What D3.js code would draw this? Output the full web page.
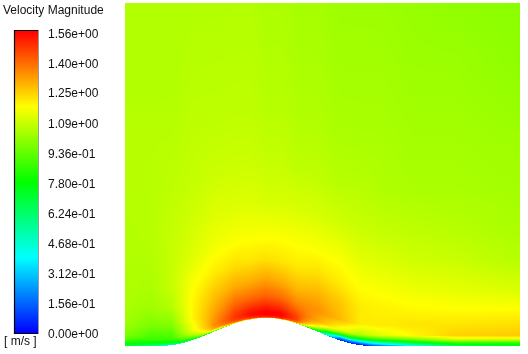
<!DOCTYPE html>
<html>
<head>
<meta charset="utf-8">
<script src="https://cdn.jsdelivr.net/npm/d3@7/dist/d3.min.js"></script>
<style>
  body { margin: 0; background: #fff; }
  #wrap { position: relative; width: 528px; height: 354px; overflow: hidden; }
  #field { position: absolute; }
  svg { position: absolute; left: 0; top: 0; }
  text { font-family: "Liberation Sans", Arial, sans-serif; font-size: 12px; fill: #111; }
</style>
</head>
<body>
<div id="wrap">
  <canvas id="field"></canvas>
  <svg width="528" height="354"></svg>
</div>
<script>
// legend
const legendValues = [0, 0.156, 0.312, 0.468, 0.624, 0.78, 0.936, 1.09, 1.25, 1.40, 1.56];
const legendLabels = ['0.00e+00', '1.56e-01', '3.12e-01', '4.68e-01', '6.24e-01', '7.80e-01',
    '9.36e-01', '1.09e+00', '1.25e+00', '1.40e+00', '1.56e+00'];
const colorStops = [0, 0.39, 0.78, 1.17, 1.56];
const colorNames = ['#0000ff', '#00ffff', '#00ff00', '#ffff00', '#ff0000'];

// bump profile (x, height), bump spans -1..1
const bumpX = [-1, -0.9, -0.8, -0.7, -0.6, -0.5, -0.4, -0.3, -0.2, -0.1, 0,
    0.1, 0.2, 0.3, 0.4, 0.5, 0.6, 0.7, 0.8, 0.9, 1];
const bumpH = [0, 0.0065, 0.0255, 0.055, 0.092, 0.134, 0.175, 0.212, 0.242, 0.261, 0.267,
    0.261, 0.242, 0.212, 0.175, 0.134, 0.092, 0.055, 0.0255, 0.0065, 0];

// sample stations along the wall and distances above the wall
const stationX = [-1.34, -1.1, -0.9, -0.7, -0.5, -0.3, -0.15, 0, 0.15, 0.3, 0.5, 0.7, 0.9, 1.1, 1.4, 1.8, 2.42];
const wallDist = [0, 0.01, 0.03, 0.06, 0.1, 0.2, 0.35, 0.55, 0.8, 1.1, 1.5, 2.0, 2.6, 3.3];

// velocity magnitude [m/s], one list per station, bottom (wall) to top
const speedCols = [
    [0.70, 0.74, 0.80, 0.90, 0.97, 1.02, 1.04, 1.05, 1.05, 1.05, 1.06, 1.06, 1.05, 1.05],
    [0.55, 0.68, 0.78, 0.86, 0.90, 0.97, 1.02, 1.04, 1.05, 1.06, 1.06, 1.06, 1.05, 1.05],
    [0.35, 0.60, 0.78, 0.86, 0.90, 0.98, 1.05, 1.08, 1.08, 1.08, 1.07, 1.06, 1.05, 1.05],
    [0.60, 0.80, 0.95, 1.08, 1.14, 1.18, 1.18, 1.16, 1.12, 1.10, 1.08, 1.07, 1.06, 1.05],
    [0.80, 1.10, 1.30, 1.33, 1.33, 1.30, 1.26, 1.20, 1.15, 1.12, 1.09, 1.07, 1.06, 1.05],
    [1.00, 1.35, 1.45, 1.48, 1.46, 1.39, 1.30, 1.22, 1.16, 1.12, 1.09, 1.07, 1.06, 1.05],
    [1.20, 1.45, 1.53, 1.54, 1.50, 1.40, 1.30, 1.21, 1.16, 1.12, 1.09, 1.07, 1.06, 1.05],
    [1.30, 1.50, 1.56, 1.56, 1.52, 1.42, 1.32, 1.22, 1.16, 1.11, 1.08, 1.06, 1.05, 1.04],
    [1.20, 1.48, 1.55, 1.55, 1.50, 1.40, 1.30, 1.21, 1.16, 1.11, 1.08, 1.06, 1.05, 1.04],
    [1.00, 1.35, 1.45, 1.46, 1.43, 1.35, 1.27, 1.20, 1.16, 1.11, 1.07, 1.05, 1.04, 1.03],
    [0.50, 0.75, 1.00, 1.20, 1.30, 1.34, 1.29, 1.22, 1.16, 1.11, 1.07, 1.05, 1.04, 1.03],
    [0.05, 0.12, 0.30, 0.85, 1.15, 1.28, 1.26, 1.20, 1.16, 1.10, 1.06, 1.04, 1.03, 1.02],
    [0.02, 0.10, 0.30, 0.75, 1.05, 1.20, 1.20, 1.17, 1.13, 1.09, 1.06, 1.04, 1.03, 1.02],
    [0.15, 0.30, 0.50, 0.85, 1.12, 1.20, 1.19, 1.16, 1.12, 1.08, 1.05, 1.04, 1.03, 1.02],
    [0.35, 0.50, 0.70, 0.95, 1.18, 1.21, 1.18, 1.14, 1.10, 1.07, 1.04, 1.03, 1.02, 1.01],
    [0.62, 0.74, 0.85, 1.10, 1.24, 1.21, 1.17, 1.13, 1.09, 1.06, 1.04, 1.03, 1.02, 1.00],
    [0.75, 0.78, 0.85, 1.10, 1.25, 1.22, 1.17, 1.11, 1.06, 1.04, 1.03, 1.02, 1.00, 0.99]
];

const PLOT = { left: 125, right: 520, top: 3, bottom: 346 };

const xScale = d3.scaleLinear().domain([-1.34, 2.42]).range([PLOT.left, PLOT.right]);
const yScale = d3.scaleLinear().domain([0, 3.267]).range([PLOT.bottom, PLOT.top]);
const bumpScale = d3.scaleLinear().domain(bumpX).range(bumpH).clamp(true);
const color = d3.scaleLinear().domain(colorStops).range(colorNames).clamp(true);

function locate(arr, v) {
    let i = d3.bisectRight(arr, v) - 1;
    i = Math.max(0, Math.min(arr.length - 2, i));
    let t = (v - arr[i]) / (arr[i + 1] - arr[i]);
    return [i, Math.max(0, Math.min(1, t))];
}

function speedAt(x, s) {
    const [i, tx] = locate(stationX, x);
    const [j, ts] = locate(wallDist, s);
    const a = speedCols[i], b = speedCols[i + 1];
    const lo = a[j] * (1 - tx) + b[j] * tx;
    const hi = a[j + 1] * (1 - tx) + b[j + 1] * tx;
    return lo * (1 - ts) + hi * ts;
}

function drawField() {
    const w = PLOT.right - PLOT.left, h = PLOT.bottom - PLOT.top;
    const canvas = d3.select('#field')
        .attr('width', w).attr('height', h)
        .style('left', PLOT.left + 'px').style('top', PLOT.top + 'px');
    const ctx = canvas.node().getContext('2d');
    const img = ctx.createImageData(w, h);
    for (let py = 0; py < h; py++) {
        const y = yScale.invert(PLOT.top + py + 0.5);
        for (let px = 0; px < w; px++) {
            const x = xScale.invert(PLOT.left + px + 0.5);
            const wall = bumpScale(x);
            if (y < wall) continue;
            const c = d3.rgb(color(speedAt(x, y - wall)));
            const k = (py * w + px) * 4;
            img.data[k] = c.r; img.data[k + 1] = c.g; img.data[k + 2] = c.b; img.data[k + 3] = 255;
        }
    }
    ctx.putImageData(img, 0, 0);
}

function drawLegend() {
    const svg = d3.select('svg');
    const bar = { x: 14, w: 24, top: 31, bottom: 333 };
    const barScale = d3.scaleLinear().domain([0, 1.56]).range([bar.bottom, bar.top]);
    const labelScale = d3.scaleLinear().domain([0, 1.56]).range([334, 33.3]);

    const grad = svg.append('defs').append('linearGradient')
        .attr('id', 'cbar').attr('x1', 0).attr('x2', 0).attr('y1', 1).attr('y2', 0);
    grad.selectAll('stop').data(colorStops).join('stop')
        .attr('offset', d => d / 1.56)
        .attr('stop-color', d => color(d));

    svg.append('rect')
        .attr('x', bar.x).attr('y', barScale(1.56))
        .attr('width', bar.w).attr('height', barScale(0) - barScale(1.56))
        .attr('fill', 'url(#cbar)');
    // frame: dark left/top/bottom, grey right
    svg.append('path')
        .attr('d', `M${bar.x + bar.w},${bar.top - 0.5}H${bar.x + 0.5}V${bar.bottom + 0.5}H${bar.x + bar.w}`)
        .attr('fill', 'none').attr('stroke', '#000').attr('stroke-width', 1.2);
    svg.append('line')
        .attr('x1', bar.x + bar.w + 0.5).attr('x2', bar.x + bar.w + 0.5)
        .attr('y1', bar.top - 1).attr('y2', bar.bottom + 1)
        .attr('stroke', '#9a9a9a').attr('stroke-width', 1);

    svg.selectAll('.tick-label').data(legendValues).join('text')
        .attr('class', 'tick-label')
        .attr('x', 48)
        .attr('y', d => labelScale(d) + 4.3)
        .text((d, i) => legendLabels[i]);

    svg.append('text').attr('x', 3).attr('y', 14).text('Velocity Magnitude');
    svg.append('text').attr('x', 4).attr('y', 344.5).text('[ m/s ]');
}

drawField();
drawLegend();
</script>
</body>
</html>
